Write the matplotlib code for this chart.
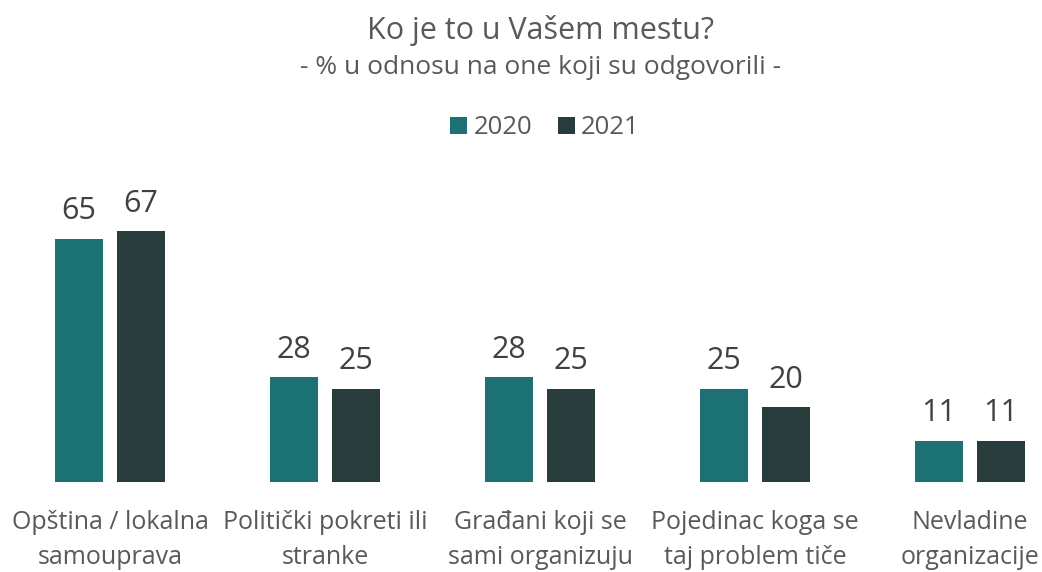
import matplotlib.pyplot as plt
import numpy as np

categories = [
    "Opština / lokalna\nsamouprava",
    "Politički pokreti ili\nstranke",
    "Građani koji se\nsami organizuju",
    "Pojedinac koga se\ntaj problem tiče",
    "Nevladine\norganizacije",
]
years = ["2020", "2021"]
values_2020 = [65, 28, 28, 25, 11]
values_2021 = [67, 25, 25, 20, 11]

colors = ["#1b7174", "#283d3b"]
text_gray = "#595959"
value_gray = "#404040"

plt.rcParams["font.family"] = ["Open Sans", "DejaVu Sans"]

W, H = 1042, 572
fig = plt.figure(figsize=(W / 100, H / 100), dpi=100)

# axes placed in pixel terms: baseline at y=482, group spacing 215 px
base_px = 482
top_px = 180
ax = fig.add_axes([0, (H - base_px) / H, 1, (base_px - top_px) / H])

x = np.arange(len(categories))
width = 48 / 215
offset = 31 / 215

for i, (vals, yr) in enumerate(zip([values_2020, values_2021], years)):
    pos = x + (i - 0.5) * 2 * offset
    bars = ax.bar(pos, vals, width, color=colors[i], label=yr)
    for b, v in zip(bars, vals):
        ax.annotate(
            f"{v}",
            (b.get_x() + b.get_width() / 2, v),
            xytext=(0, 9),
            textcoords="offset points",
            ha="center",
            va="bottom",
            fontsize=22,
            color=value_gray,
        )

ax.set_xlim(-110 / 215, (W - 110) / 215)
ax.set_ylim(0, (base_px - top_px) / 3.74)
ax.set_xticks(x)
ax.set_xticklabels(categories, fontsize=18, color=text_gray)
for lbl in ax.get_xticklabels():
    lbl.set_linespacing(1.55)
ax.tick_params(axis="x", length=0, pad=20)
ax.set_yticks([])
for s in ax.spines.values():
    s.set_visible(False)

cx = 541 / W
fig.text(cx, 1 - 30 / H, "Ko je to u Vašem mestu?", ha="center", va="center",
         fontsize=22, color=text_gray)
fig.text(cx, 1 - 68 / H, "- % u odnosu na one koji su odgovorili -", ha="center",
         va="center", fontsize=19, color=text_gray)

leg = fig.legend(
    loc="center",
    bbox_to_anchor=(545 / W, 1 - 128 / H),
    ncol=2,
    frameon=False,
    fontsize=18.5,
    handlelength=0.65,
    handleheight=0.65,
    handletextpad=0.25,
    columnspacing=1.0,
)
for t in leg.get_texts():
    t.set_color(text_gray)

fig.savefig("out.png", dpi=100)
